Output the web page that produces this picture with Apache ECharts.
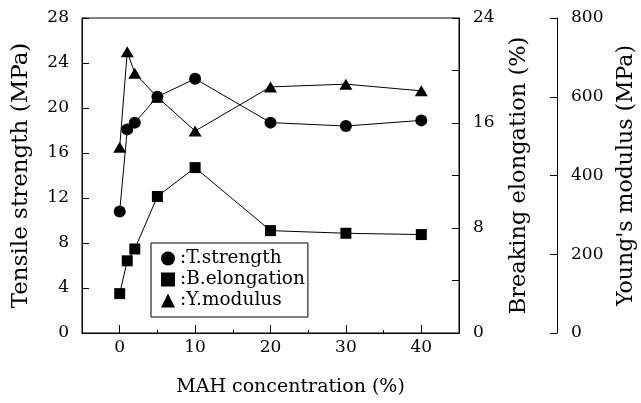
<!DOCTYPE html>
<html>
<head>
<meta charset="utf-8">
<script src="https://cdn.jsdelivr.net/npm/echarts@6/dist/echarts.min.js"></script>
<style>
  html, body { margin: 0; padding: 0; background: #fff; }
  #chart { width: 641px; height: 403px; }
</style>
</head>
<body>
<div id="chart"></div>
<script>
// MAH concentration (%)
const concentration = [0, 1, 2, 5, 10, 20, 30, 40];
// Tensile strength (MPa)
const tensileStrength = [10.8, 18.1, 18.7, 21.0, 22.6, 18.7, 18.4, 18.9];
// Breaking elongation (%)
const breakingElongation = [3.0, 5.5, 6.4, 10.4, 12.6, 7.8, 7.6, 7.5];
// Young's modulus (MPa)
const youngsModulus = [472, 714, 660, 599, 513, 625, 632, 615];

const xMajorTicks = [0, 10, 20, 30, 40];
const xMinorTicks = [5, 15, 25, 35];
const elongationLabels = [0, 8, 16, 24];

const FONT = 'DejaVu Serif';
const INK = '#000';

const pairs = (ys) => concentration.map((x, i) => [x, ys[i]]);

const chart = echarts.init(document.getElementById('chart'), null, { renderer: 'canvas' });

const baseYAxis = {
  type: 'value',
  axisLine: { show: true, onZero: false, lineStyle: { color: INK, width: 1 } },
  axisTick: { show: true, inside: true, length: 7, lineStyle: { color: INK } },
  splitLine: { show: false },
  axisLabel: { color: INK, fontFamily: FONT, fontSize: 17, margin: 13 },
  nameLocation: 'middle',
  nameRotate: 90,
  nameTextStyle: { color: INK, fontFamily: FONT, fontSize: 23 }
};

chart.setOption({
  animation: false,
  backgroundColor: '#fff',
  textStyle: { fontFamily: FONT, color: INK },
  grid: {
    left: 82, right: 182, top: 18, bottom: 70,
    outerBoundsMode: 'none',
    containLabel: false,
    show: true, borderColor: INK, borderWidth: 1, backgroundColor: 'transparent'
  },
  legend: {
    orient: 'vertical',
    left: 151, top: 243,
    padding: [5, 3, 6, 10],
    itemGap: 0,
    itemWidth: 14, itemHeight: 14,
    itemTextGap: 1,
    borderColor: INK, borderWidth: 1,
    formatter: ':{name}',
    textStyle: { color: INK, fontFamily: FONT, fontSize: 18.5, lineHeight: 21 },
    data: [
      { name: 'T.strength', icon: 'circle' },
      { name: 'B.elongation', icon: 'rect' },
      { name: 'Y.modulus', icon: 'triangle' }
    ]
  },
  xAxis: [
    {
      type: 'value', min: -5, max: 45, position: 'bottom',
      axisLine: { show: true, onZero: false, lineStyle: { color: INK } },
      axisTick: { show: true, inside: true, length: 8, customValues: xMajorTicks, lineStyle: { color: INK } },
      axisLabel: { color: INK, fontFamily: FONT, fontSize: 17, margin: 6, customValues: xMajorTicks },
      splitLine: { show: false },
      name: 'MAH concentration (%)',
      nameLocation: 'middle',
      nameGap: 45,
      nameTextStyle: { color: INK, fontFamily: FONT, fontSize: 19, padding: [0, 0, 0, 40] }
    },
    {
      type: 'value', min: -5, max: 45, position: 'bottom', offset: 0,
      axisLine: { show: false, onZero: false },
      axisTick: { show: true, inside: true, length: 3, customValues: xMinorTicks, lineStyle: { color: INK } },
      axisLabel: { show: false },
      splitLine: { show: false }
    }
  ],
  yAxis: [
    Object.assign({}, baseYAxis, {
      position: 'left', min: 0, max: 28, interval: 4,
      name: 'Tensile strength (MPa)', nameGap: 49
    }),
    Object.assign({}, baseYAxis, {
      position: 'right', min: 0, max: 24, interval: 4,
      axisLabel: Object.assign({}, baseYAxis.axisLabel, { customValues: elongationLabels, margin: 14 }),
      name: 'Breaking elongation (%)', nameGap: 49,
      nameTextStyle: Object.assign({}, baseYAxis.nameTextStyle, { fontSize: 22.5 })
    }),
    Object.assign({}, baseYAxis, {
      position: 'right', offset: 98, min: 0, max: 800, interval: 200,
      axisLabel: Object.assign({}, baseYAxis.axisLabel, { margin: 14 }),
      name: "Young's modulus (MPa)", nameGap: 58,
      nameTextStyle: Object.assign({}, baseYAxis.nameTextStyle, { fontSize: 22 })
    })
  ],
  series: [
    {
      name: 'T.strength', type: 'line', xAxisIndex: 0, yAxisIndex: 0, z: 4,
      data: pairs(tensileStrength),
      symbol: 'circle', symbolSize: 12,
      itemStyle: { color: INK },
      lineStyle: { color: INK, width: 1 }
    },
    {
      name: 'B.elongation', type: 'line', xAxisIndex: 0, yAxisIndex: 1, z: 3,
      data: pairs(breakingElongation),
      symbol: 'rect', symbolSize: 11,
      itemStyle: { color: INK },
      lineStyle: { color: INK, width: 1 }
    },
    {
      name: 'Y.modulus', type: 'line', xAxisIndex: 0, yAxisIndex: 2, z: 2,
      data: pairs(youngsModulus),
      symbol: 'triangle', symbolSize: [13, 11],
      itemStyle: { color: INK },
      lineStyle: { color: INK, width: 1 }
    }
  ]
});
</script>
</body>
</html>
